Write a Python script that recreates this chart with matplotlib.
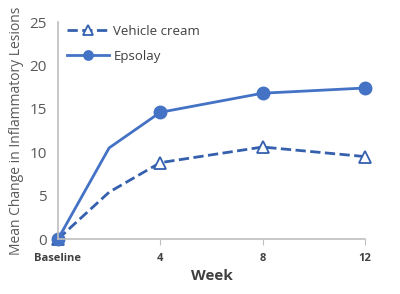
import matplotlib
matplotlib.use('Agg')
import matplotlib.pyplot as plt

# Data
weeks = [0, 2, 4, 8, 12]
tick_weeks = [0, 4, 8, 12]
tick_labels = ['Baseline', '4', '8', '12']
vehicle = [0, 5.4, 8.8, 10.6, 9.5]
epsolay = [0, 10.5, 14.6, 16.8, 17.4]
marker_idx = [0, 2, 3, 4]  # no marker at week 2

plt.rcParams['font.family'] = ['Open Sans', 'DejaVu Sans']

fig = plt.figure(figsize=(4, 2.94), dpi=100)
ax = fig.add_axes([0.145, 0.187, 0.767, 0.738])

ax.plot(weeks, vehicle, linestyle='--', color='#3560AE', linewidth=2,
        marker='^', markersize=9, markerfacecolor='white', markeredgecolor='#3560AE',
        markeredgewidth=1.3, markevery=marker_idx, clip_on=False, label='Vehicle cream')
ax.plot(weeks, epsolay, linestyle='-', color='#4472C4', linewidth=2,
        marker='o', markersize=9, markevery=marker_idx, clip_on=False, label='Epsolay')

ax.set_xlim(0, 12)
ax.set_ylim(0, 25)
ax.set_yticks([0, 5, 10, 15, 20, 25])
ax.set_xticks(tick_weeks)
ax.set_xticklabels(tick_labels, fontsize=8, fontweight='bold', color='#404040')
ax.tick_params(axis='y', length=0, labelsize=11, labelcolor='#595959', pad=8)
ax.tick_params(axis='x', length=4, color='#BFBFBF', direction='out', pad=6)

for s in ['top', 'right']:
    ax.spines[s].set_visible(False)
for s in ['left', 'bottom']:
    ax.spines[s].set_color('#BFBFBF')
    ax.spines[s].set_linewidth(1.2)

ax.set_ylabel('Mean Change in Inflammatory Lesions', fontsize=10, color='#595959', labelpad=4)
ax.set_xlabel('Week', fontsize=11, fontweight='bold', color='#404040', labelpad=4)

ax.legend(loc='upper left', bbox_to_anchor=(0.0, 1.03), frameon=False, fontsize=9.5,
          handlelength=3.2, labelcolor='#404040', borderaxespad=0.3, handletextpad=0.3,
          markerscale=0.75, labelspacing=0.9)

fig.savefig('out.png', dpi=100)
